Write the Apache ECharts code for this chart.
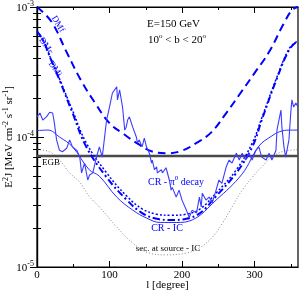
<!DOCTYPE html>
<html><head><meta charset="utf-8">
<script src="https://cdn.jsdelivr.net/npm/echarts@6/dist/echarts.min.js"></script>
<style>html,body{margin:0;padding:0;background:#fff}#c{width:300px;height:293px}</style>
</head><body><div id="c"></div>
<script>
// ---- data ----
const xTicks = [0, 100, 200, 300];
const xMinorTicks = [50, 150, 250, 350];
const egbValue = 7.15e-5;

const dmfL = [0, 20, 40, 60, 80, 100, 120, 140, 160, 180, 200, 220, 240, 260, 280, 300, 320, 340, 352, 360];
const dmfV = [1.0e-3, 7.7e-4, 4.6e-4, 2.77e-4, 1.83e-4, 1.28e-4, 1.05e-4, 8.8e-5, 7.7e-5, 7.5e-5, 7.85e-5, 9.0e-5, 1.08e-4, 1.5e-4, 2.15e-4, 3.1e-4, 4.5e-4, 7.4e-4, 9.5e-4, 1.0e-3];

const dmcL = [0, 8, 20, 31, 49, 68, 96, 124, 145, 165, 185, 206, 225, 247, 275, 297, 310, 330, 348, 360];
const dmcV = [6.5e-4, 5.6e-4, 3.85e-4, 2.75e-4, 1.53e-4, 8.4e-5, 4.9e-5, 3.27e-5, 2.6e-5, 2.35e-5, 2.3e-5, 2.35e-5, 2.6e-5, 3.5e-5, 5.3e-5, 8.4e-5, 1.35e-4, 2.74e-4, 4.7e-4, 5.5e-4];

const dmiL = [0, 8, 20, 31, 49, 68, 96, 124, 145, 165, 185, 206, 225, 247, 275, 297, 310, 330, 348, 360];
const dmiV = [6.5e-4, 5.6e-4, 3.9e-4, 2.8e-4, 1.6e-4, 9.0e-5, 5.3e-5, 3.5e-5, 2.8e-5, 2.55e-5, 2.5e-5, 2.55e-5, 2.8e-5, 3.7e-5, 5.6e-5, 9.0e-5, 1.4e-4, 2.8e-4, 4.8e-4, 5.5e-4];

const crL = [0, 15, 31, 49, 72, 86, 110, 132, 151, 170, 192, 214, 247, 283, 306, 324, 335, 348, 360];
const crV = [1.12e-4, 1.13e-4, 1.0e-4, 8.4e-5, 5.6e-5, 5.0e-5, 3.45e-5, 2.74e-5, 2.38e-5, 2.2e-5, 2.2e-5, 2.3e-5, 3.27e-5, 5.2e-5, 8.5e-5, 1.02e-4, 1.1e-4, 1.13e-4, 1.13e-4];

const secL = [0, 17, 31, 45, 59, 72, 86, 110, 132, 155, 178, 206, 224, 242, 256, 269, 283, 297, 310, 324, 338, 360];
const secV = [8.0e-5, 7.7e-5, 6.65e-5, 5.3e-5, 4.5e-5, 3.5e-5, 2.9e-5, 2.03e-5, 1.53e-5, 1.28e-5, 1.24e-5, 1.28e-5, 1.4e-5, 1.7e-5, 2.18e-5, 2.9e-5, 3.9e-5, 4.9e-5, 5.9e-5, 7.0e-5, 7.7e-5, 8.0e-5];

const obsL = [0, 4, 8, 13, 17.5, 21.6, 24, 27, 31, 35, 41, 45, 49, 55, 59, 61.5, 65.6, 70, 72.5, 77, 82, 86, 90, 96, 100, 104, 110, 111, 114, 118, 121, 123, 125, 127.5, 132, 137, 138.5, 141, 145, 148, 151, 155, 158, 159, 162, 165, 166, 171.5, 173, 178, 182.5, 185, 186.6, 192, 196, 200, 206, 210, 214, 220, 224, 226.5, 228, 233, 237.5, 241.6, 247, 251, 255, 261, 265, 269, 275, 279, 283, 288, 292.5, 296.6, 302, 306, 310, 316, 320, 324, 329.6, 331, 333.7, 336.5, 337.8, 340.6, 343, 347.5, 350, 351.6, 354, 357, 360];
const obsV = [1.43e-4, 1.53e-4, 1.35e-4, 1.43e-4, 1.55e-4, 1.53e-4, 1.28e-4, 9.5e-5, 7.9e-5, 7.7e-5, 8.2e-5, 9.5e-5, 8.4e-5, 7.9e-5, 7.0e-5, 5.3e-5, 6.3e-5, 4.67e-5, 5.1e-5, 5.3e-5, 7.0e-5, 8.4e-5, 7.0e-5, 1.35e-4, 1.7e-4, 2.18e-4, 2.43e-4, 1.93e-4, 2.3e-4, 1.7e-4, 1.13e-4, 1.19e-4, 1.35e-4, 1.43e-4, 1.19e-4, 1.0e-4, 9.0e-5, 9.5e-5, 8.4e-5, 9.8e-5, 8.4e-5, 7.5e-5, 6.3e-5, 6.65e-5, 5.6e-5, 5.9e-5, 5.3e-5, 5.6e-5, 5.3e-5, 5.8e-5, 4.67e-5, 3.9e-5, 4.1e-5, 3.45e-5, 3.9e-5, 3.27e-5, 2.74e-5, 2.4e-5, 2.74e-5, 2.6e-5, 3.45e-5, 2.9e-5, 3.7e-5, 3.27e-5, 3.45e-5, 3.1e-5, 3.9e-5, 4.67e-5, 4.4e-5, 5.9e-5, 6.65e-5, 6.3e-5, 7.5e-5, 6.65e-5, 7.5e-5, 6.65e-5, 7.5e-5, 6.65e-5, 7.9e-5, 8.4e-5, 7.0e-5, 6.65e-5, 7.5e-5, 6.65e-5, 7.9e-5, 1.13e-4, 1.35e-4, 1.61e-4, 1.19e-4, 8.4e-5, 7.0e-5, 9.5e-5, 1.53e-4, 1.93e-4, 1.7e-4, 1.83e-4, 1.7e-4];

// ---- chart ----
const zip = (a, b) => a.map((x, i) => [x, b[i]]);
const FONT = 'Liberation Serif';
const yMinor = [];
for (let d = -5; d < -3; d++) for (let k = 2; k <= 9; k++) yMinor.push(d + Math.log10(k));

const G = { left: 37, right: 2, top: 7, bottom: 26, outerBoundsMode: 'none', containLabel: false };
const chart = echarts.init(document.getElementById('c'), null, { renderer: 'canvas' });
const supRich = {
  b: { fontFamily: FONT, fontSize: 11, color: '#000', lineHeight: 14, verticalAlign: 'bottom' },
  sup: { fontFamily: FONT, fontSize: 8, color: '#000', lineHeight: 14, verticalAlign: 'top', padding: [0, 0, 3, 0] }
};
chart.setOption({
  animation: false,
  backgroundColor: '#fff',
  grid: [
    Object.assign({ show: true, borderColor: '#000', borderWidth: 1.2, backgroundColor: 'transparent' }, G),
    Object.assign({ show: false }, G)
  ],
  xAxis: [
    { gridIndex: 0, type: 'value', position: 'bottom', min: 0, max: 360,
      name: 'l [degree]', nameLocation: 'middle', nameGap: 13, nameMoveOverlap: false,
      nameTextStyle: { fontFamily: FONT, fontSize: 11, color: '#000' },
      axisLine: { show: true, lineStyle: { color: '#000', width: 1.2 } },
      axisTick: { show: true, inside: true, length: 6, customValues: xTicks, lineStyle: { color: '#000' } },
      axisLabel: { customValues: xTicks, fontFamily: FONT, fontSize: 11, color: '#000', margin: 3 },
      splitLine: { show: false } },
    { gridIndex: 0, type: 'value', position: 'top', min: 0, max: 360,
      axisLine: { show: true, lineStyle: { color: '#000', width: 1.2 } },
      axisTick: { show: true, inside: true, length: 6, customValues: [100, 200, 300], lineStyle: { color: '#000' } },
      axisLabel: { show: false }, splitLine: { show: false } },
    { gridIndex: 1, type: 'value', position: 'bottom', min: 0, max: 360,
      axisLine: { show: false },
      axisTick: { show: true, inside: true, length: 3, customValues: xMinorTicks, lineStyle: { color: '#000' } },
      axisLabel: { show: false }, splitLine: { show: false } },
    { gridIndex: 1, type: 'value', position: 'top', min: 0, max: 360,
      axisLine: { show: false },
      axisTick: { show: true, inside: true, length: 3, customValues: xMinorTicks, lineStyle: { color: '#000' } },
      axisLabel: { show: false }, splitLine: { show: false } }
  ],
  yAxis: [
    { gridIndex: 0, type: 'log', logBase: 10, min: 1e-5, max: 1e-3, position: 'left',
      name: 'E{sup|2}J [MeV cm{sup|-2} s{sup|-1} sr{sup|-1}]', nameLocation: 'middle', nameGap: 21, nameRotate: 90,
      nameMoveOverlap: false,
      nameTextStyle: { fontFamily: FONT, fontSize: 11, color: '#000',
        rich: { sup: { fontFamily: FONT, fontSize: 8, color: '#000', verticalAlign: 'top', lineHeight: 14 } } },
      axisLine: { show: true, lineStyle: { color: '#000', width: 1.2 } },
      axisTick: { show: true, inside: true, length: 7, lineStyle: { color: '#000' } },
      axisLabel: { margin: 3, formatter: v => '{b|10}{sup|' + Math.round(Math.log10(v)) + '}', rich: supRich },
      splitLine: { show: false } },
    { gridIndex: 0, type: 'log', logBase: 10, min: 1e-5, max: 1e-3, position: 'right',
      axisLine: { show: true, lineStyle: { color: '#000', width: 1.2 } },
      axisTick: { show: true, inside: true, length: 7, lineStyle: { color: '#000' } },
      axisLabel: { show: false }, splitLine: { show: false } },
    { gridIndex: 1, type: 'value', min: -5, max: -3, position: 'left',
      axisLine: { show: false },
      axisTick: { show: true, inside: true, length: 4, customValues: yMinor, lineStyle: { color: '#000' } },
      axisLabel: { show: false }, splitLine: { show: false } },
    { gridIndex: 1, type: 'value', min: -5, max: -3, position: 'right',
      axisLine: { show: false },
      axisTick: { show: true, inside: true, length: 4, customValues: yMinor, lineStyle: { color: '#000' } },
      axisLabel: { show: false }, splitLine: { show: false } }
  ],
  series: [
    { name: 'sec', type: 'line', xAxisIndex: 0, yAxisIndex: 0, data: zip(secL, secV), smooth: 0.4, showSymbol: false,
      lineStyle: { color: '#888', width: 1, type: [1, 2] } },
    { name: 'EGB', type: 'line', xAxisIndex: 0, yAxisIndex: 0, data: [[0, egbValue], [360, egbValue]], showSymbol: false,
      lineStyle: { color: '#4a4a4a', width: 2.5 } },
    { name: 'CR', type: 'line', xAxisIndex: 0, yAxisIndex: 0, data: zip(crL, crV), smooth: 0.4, showSymbol: false,
      lineStyle: { color: '#2a2aff', width: 1 } },
    { name: 'DMi', type: 'line', xAxisIndex: 0, yAxisIndex: 0, data: zip(dmiL, dmiV), smooth: 0.4, showSymbol: false,
      lineStyle: { color: '#0000ff', width: 1.5, type: [2, 2] } },
    { name: 'DMc', type: 'line', xAxisIndex: 0, yAxisIndex: 0, data: zip(dmcL, dmcV), smooth: 0.4, showSymbol: false,
      lineStyle: { color: '#0000ff', width: 2, type: [7, 3, 2, 3] } },
    { name: 'DMf', type: 'line', xAxisIndex: 0, yAxisIndex: 0, data: zip(dmfL, dmfV), smooth: 0.4, showSymbol: false,
      lineStyle: { color: '#0000ff', width: 2, type: [8, 5] } },
    { name: 'obs', type: 'line', xAxisIndex: 0, yAxisIndex: 0, data: zip(obsL, obsV), showSymbol: false,
      lineStyle: { color: '#3c3cff', width: 1.1 } }
  ],
  graphic: [
    { type: 'text', x: 147, y: 24, style: { text: 'E=150 GeV', font: '11px ' + FONT, fill: '#000', verticalAlign: 'middle' } },
    { type: 'text', x: 148, y: 40, style: { text: '10{s|o} < b < 20{s|o}', font: '11px ' + FONT, fill: '#000', verticalAlign: 'middle',
      rich: { s: { fontSize: 7, fontFamily: FONT, verticalAlign: 'top', lineHeight: 14 } } } },
    { type: 'text', x: 58, y: 24, rotation: -1.03, style: { text: 'DMf', font: '9px ' + FONT, fill: '#0000ff', align: 'center', verticalAlign: 'middle' } },
    { type: 'text', x: 46, y: 46, rotation: -0.96, style: { text: 'DMc', font: '9px ' + FONT, fill: '#0000ff', align: 'center', verticalAlign: 'middle' } },
    { type: 'text', x: 55, y: 69, rotation: -0.96, style: { text: 'DMi', font: '9px ' + FONT, fill: '#0000ff', align: 'center', verticalAlign: 'middle' } },
    { type: 'text', x: 42, y: 163, style: { text: 'EGB', font: '9px ' + FONT, fill: '#000', verticalAlign: 'middle' } },
    { type: 'text', x: 148, y: 182, style: { text: 'CR - π{s|0} decay', font: '10px ' + FONT, fill: '#0000ff', verticalAlign: 'middle',
      rich: { s: { fontSize: 7, fontFamily: FONT, fill: '#0000ff', verticalAlign: 'top', lineHeight: 14 } } } },
    { type: 'text', x: 167, y: 228, style: { text: 'CR - IC', font: '10px ' + FONT, fill: '#0000ff', align: 'center', verticalAlign: 'middle' } },
    { type: 'text', x: 168, y: 249, style: { text: 'sec. at source - IC', font: '9px ' + FONT, fill: '#000', align: 'center', verticalAlign: 'middle' } }
  ]
});
</script></body></html>
